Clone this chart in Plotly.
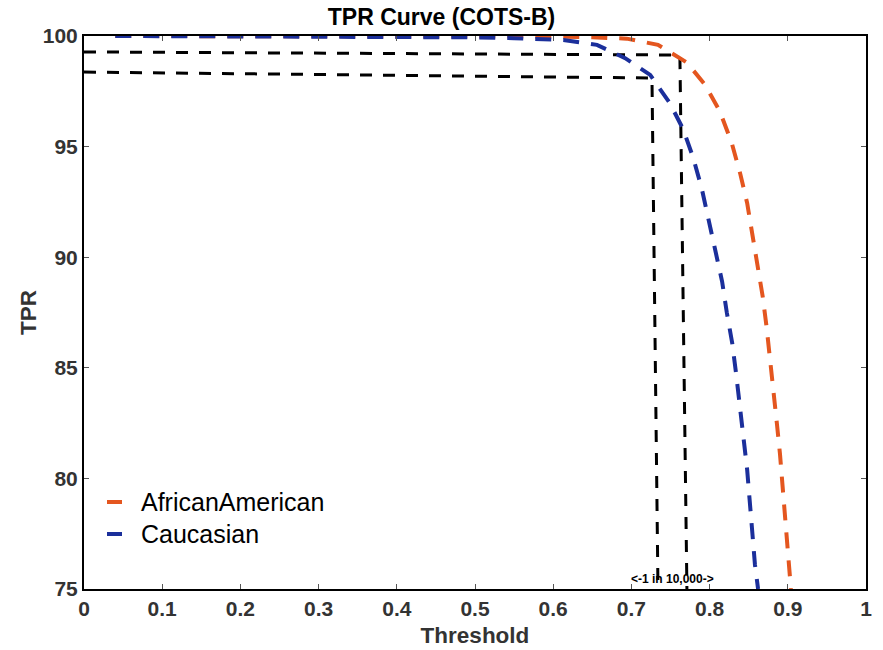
import plotly.graph_objects as go

# ---- data ----
thr_aa = [0.04, 0.2, 0.4, 0.5, 0.6, 0.65, 0.694, 0.734, 0.771, 0.794, 0.813, 0.828,
          0.839, 0.848, 0.855, 0.862, 0.868, 0.873, 0.877, 0.882, 0.886, 0.890, 0.900, 0.904]
tpr_aa = [100, 100, 100, 99.99, 99.97, 99.94, 99.88, 99.6, 98.8, 97.8, 96.6, 95.2,
          93.8, 92.45, 91.0, 89.65, 88.2, 86.8, 85.35, 83.9, 82.5, 81.1, 76.9, 75.0]

thr_c = [0.04, 0.2, 0.4, 0.5, 0.55, 0.613, 0.656, 0.692, 0.724, 0.749, 0.766, 0.779,
         0.790, 0.799, 0.808, 0.816, 0.822, 0.829, 0.834, 0.839, 0.843, 0.848, 0.858, 0.862]
tpr_c = [100, 99.99, 99.97, 99.94, 99.9, 99.82, 99.6, 99.0, 98.24, 96.97, 95.8, 94.5,
         93.1, 91.7, 90.3, 88.9, 87.5, 86.1, 84.7, 83.2, 81.8, 80.4, 76.1, 75.0]

# reference markers at 1 in 10,000
ref_aa_x = [0.0, 0.762, 0.771]
ref_aa_y = [99.28, 99.14, 75.0]
ref_c_x = [0.0, 0.7263, 0.734]
ref_c_y = [98.37, 98.10, 75.0]

series_names = ["AfricanAmerican", "Caucasian"]
series_colors = ["#E4561F", "#1B2F9B"]
x_ticks = [0, 0.1, 0.2, 0.3, 0.4, 0.5, 0.6, 0.7, 0.8, 0.9, 1]
x_tick_labels = ["0", "0.1", "0.2", "0.3", "0.4", "0.5", "0.6", "0.7", "0.8", "0.9", "1"]
y_ticks = [75, 80, 85, 90, 95, 100]

FONT = "Liberation Sans, Arial, sans-serif"

fig = go.Figure()
for rx, ry in [(ref_aa_x, ref_aa_y), (ref_c_x, ref_c_y)]:
    fig.add_trace(go.Scatter(x=rx, y=ry, mode="lines", showlegend=False,
                             line=dict(color="black", width=3, dash="12px,11px")))
fig.add_trace(go.Scatter(x=thr_aa, y=tpr_aa, mode="lines", name=series_names[0], showlegend=False,
                         line=dict(color=series_colors[0], width=4, dash="16px,12px")))
fig.add_trace(go.Scatter(x=thr_c, y=tpr_c, mode="lines", name=series_names[1], showlegend=False,
                         line=dict(color=series_colors[1], width=4, dash="16px,12px")))

axis_common = dict(showgrid=False, zeroline=False, showline=True, linecolor="black",
                   linewidth=2, mirror="allticks", ticks="inside", ticklen=5,
                   tickcolor="#555", tickwidth=1, automargin=False,
                   tickfont=dict(family=FONT, size=21, color="#333", weight="bold"))

fig.update_xaxes(range=[0, 1], tickvals=x_ticks, ticktext=x_tick_labels,
                 title=dict(text="Threshold", standoff=8,
                            font=dict(family=FONT, size=22.5, color="#333", weight="bold")),
                 **axis_common)
fig.update_yaxes(range=[75, 100], tickvals=y_ticks,
                 title=dict(text="TPR", standoff=0,
                            font=dict(family=FONT, size=22.5, color="#333", weight="bold")),
                 **axis_common)

# legend (manual, inside plot lower-left)
W, H = 883, 650
L, R, T, B = 84, 17, 36, 61
pw, ph = W - L - R, H - T - B
def px_to_paper(px, py):
    return (px - L) / pw, (H - B - py) / ph

for i, (name, col) in enumerate(zip(series_names, series_colors)):
    yy = 502 + 32 * i
    x0, y0 = px_to_paper(107, yy)
    x1, _ = px_to_paper(122, yy)
    fig.add_shape(type="line", xref="paper", yref="paper", x0=x0, x1=x1, y0=y0, y1=y0,
                  line=dict(color=col, width=4))
    tx, _ = px_to_paper(139, yy)
    fig.add_annotation(x=tx, y=y0, xref="paper", yref="paper", text=name, showarrow=False,
                       xanchor="left", yanchor="middle",
                       font=dict(family=FONT, size=25, color="black"))

fig.add_annotation(x=0.752, y=75.45, text="<-1 in 10,000->", showarrow=False,
                   xanchor="center", yanchor="middle",
                   font=dict(family=FONT, size=12, color="black", weight="bold"))

fig.update_layout(
    width=W, height=H,
    margin=dict(l=L, r=R, t=T, b=B, autoexpand=False),
    paper_bgcolor="white", plot_bgcolor="white",
    title=dict(text="TPR Curve (COTS-B)", x=0.5, xanchor="center", y=1 - 17 / H, yanchor="middle",
               font=dict(family=FONT, size=23, color="black", weight="bold")),
    showlegend=False,
)

fig.write_html("out.html")
